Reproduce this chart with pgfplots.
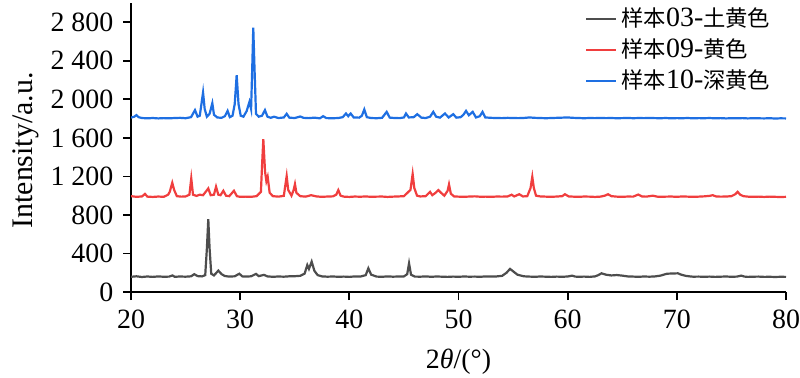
\documentclass[border=0pt]{standalone}
\usepackage{fontspec}
\setmainfont{Liberation Serif}
\newfontfamily\cjk[Scale=0.8]{Noto Sans CJK SC}
\usepackage{pgfplots}
\pgfplotsset{compat=1.18}
\usetikzlibrary{calc}
\definecolor{cgray}{RGB}{77,77,77}
\definecolor{cred}{RGB}{240,62,62}
\definecolor{cblue}{RGB}{30,111,226}
\begin{document}
\fontsize{14}{16}\selectfont
\begin{tikzpicture}
\begin{axis}[
  scale only axis, width=327.5bp, height=144.5bp,
  xmin=20, xmax=80, ymin=0, ymax=3000,
  axis lines=left, axis line style={-, line width=0.9bp, black},
  xtick={20,30,...,80}, ytick={0,400,...,2800},
  tick align=outside, major tick length=4bp,
  tick style={line width=0.9bp, black},
  tick label style={font=\fontsize{14}{16}\selectfont},
  /pgf/number format/assume math mode=true,
  /pgf/number format/1000 sep={\hspace{0.25em}},
  xlabel={2\textit{θ}/(°)}, ylabel={Intensity/a.u.},
  x label style={at={(axis description cs:0.5,-0.165)}, anchor=north, font=\fontsize{14}{16}\selectfont},
  y label style={at={(axis description cs:-0.16,0.49)}, anchor=center, font=\fontsize{15}{17}\selectfont},
  legend style={at={(rel axis cs:0.693,0.99)}, anchor=north west, draw=none, fill=none, inner xsep=0pt, inner ysep=0pt, row sep=2.5bp,
    nodes={inner ysep=0pt, inner xsep=2bp, text height=10bp, text depth=3bp, font=\fontsize{14}{16}\selectfont}},
  legend cell align=left,
  legend image code/.code={\draw[#1] (0bp,0bp) -- (15bp,0bp);},
  every axis plot/.append style={line width=1.1bp},
]
\coordinate (sw) at (rel axis cs:0,0);
\coordinate (ne) at (rel axis cs:1,1);
\addplot[cgray] coordinates {
(20,158)(20.5,163)(21,156)(21.5,161)(22,157)(22.5,162)(23,158)(23.5,160)(23.8,172)(24.0,158)(24.5,161)(25,159)(25.5,163)(25.8,185)(26.1,165)(26.5,162)(26.8,175)(26.95,450)(27.08,755)(27.2,450)(27.35,190)(27.6,172)(28.0,222)(28.3,185)(28.6,166)(29,160)(29.5,163)(29.92,190)(30.2,162)(30.5,160)(31,163)(31.45,188)(31.7,165)(32.18,178)(32.5,162)(33,158)(33.5,161)(34,159)(34.5,163)(35,164)(35.5,168)(35.9,190)(36.15,280)(36.3,240)(36.55,315)(36.8,220)(37.1,175)(37.5,162)(38,159)(38.5,161)(39,158)(39.5,160)(40,157)(40.5,162)(41,160)(41.5,175)(41.74,246)(42,180)(42.5,160)(43,158)(43.5,162)(44,159)(44.5,161)(45,162)(45.3,185)(45.47,297)(45.65,180)(46,160)(46.5,159)(47,162)(47.5,158)(48,161)(48.5,159)(49,157)(49.5,160)(50,158)(50.5,161)(51,159)(51.5,160)(52,158)(52.5,162)(53,160)(53.5,162)(54,168)(54.4,200)(54.72,240)(55.0,215)(55.4,180)(55.8,168)(56,163)(56.5,160)(57,158)(57.5,161)(58,159)(58.5,157)(59,160)(59.5,158)(60,161)(60.4,170)(60.7,160)(61,158)(61.5,160)(62,157)(62.5,162)(62.8,175)(63.1,194)(63.5,180)(64,172)(64.5,176)(65,170)(65.5,162)(66,160)(66.5,158)(67,161)(67.5,159)(68,162)(68.5,170)(69.1,190)(69.6,192)(70.1,194)(70.4,180)(70.8,168)(71.2,162)(71.5,159)(72,160)(72.5,158)(73,160)(73.5,157)(74,159)(74.5,161)(75,158)(75.5,160)(75.9,170)(76.2,160)(76.5,157)(77,159)(77.5,160)(78,157)(78.5,158)(79,156)(79.5,158)(80,157)
};
\addlegendentry{{\cjk 样本}03-{\cjk 土黄色}}
\addplot[cred] coordinates {
(20,995)(20.5,988)(21,992)(21.28,1018)(21.5,990)(22,987)(22.5,991)(23,988)(23.4,1010)(23.55,1040)(23.78,1134)(23.95,1060)(24.2,995)(24.6,990)(25,992)(25.35,1010)(25.52,1179)(25.68,1010)(26,998)(26.3,1010)(26.6,1005)(27.08,1075)(27.3,1005)(27.6,1010)(27.79,1093)(28.0,1010)(28.2,1005)(28.46,1051)(28.7,1000)(29,995)(29.43,1051)(29.7,995)(30,988)(30.5,990)(31,988)(31.5,995)(31.9,1040)(32.0,1300)(32.12,1587)(32.28,1250)(32.4,1150)(32.52,1196)(32.7,1030)(33,995)(33.5,990)(34,998)(34.1,1080)(34.26,1203)(34.4,1060)(34.7,1000)(34.9,1060)(35.02,1120)(35.15,1030)(35.5,995)(36,990)(36.5,1005)(37,992)(37.5,988)(38,991)(38.5,993)(38.8,1010)(38.99,1058)(39.2,1000)(39.5,990)(40,987)(40.5,991)(41,989)(41.5,992)(42,988)(42.5,990)(43,991)(43.5,987)(44,990)(44.5,992)(45,995)(45.6,1060)(45.8,1224)(45.95,1080)(46.2,1000)(46.5,992)(47,995)(47.39,1040)(47.6,1005)(47.9,1030)(48.15,1058)(48.4,1030)(48.7,1000)(49.0,1050)(49.13,1117)(49.3,1020)(49.6,992)(50,990)(50.5,988)(51,991)(51.5,993)(52,989)(52.5,990)(53,988)(53.5,991)(54,990)(54.5,992)(54.87,1010)(55.1,992)(55.57,1015)(55.9,992)(56.3,995)(56.6,1080)(56.76,1196)(56.9,1080)(57.1,1000)(57.5,992)(58,990)(58.5,988)(59,991)(59.5,995)(59.75,1015)(60.1,992)(60.5,990)(61,988)(61.5,991)(62,990)(62.5,987)(63,990)(63.4,1000)(63.7,1015)(64,995)(64.5,990)(65,988)(65.5,991)(66,990)(66.47,1012)(66.8,992)(67.2,990)(67.8,1000)(68.2,990)(68.5,988)(69,990)(69.5,991)(70,988)(70.5,992)(71,990)(71.5,988)(72,990)(72.5,993)(73,998)(73.28,1005)(73.6,992)(74,990)(74.5,991)(75,995)(75.35,1015)(75.57,1040)(75.8,1010)(76.1,995)(76.5,990)(77,988)(77.5,990)(78,987)(78.5,990)(79,988)(79.5,986)(80,988)
};
\addlegendentry{{\cjk 样本}09-{\cjk 黄色}}
\addplot[cblue] coordinates {
(20,1810)(20.3,1820)(20.5,1836)(20.7,1815)(21,1806)(21.5,1803)(22,1806)(22.5,1802)(23,1805)(23.5,1803)(24,1806)(24.5,1808)(25,1804)(25.5,1815)(25.86,1888)(26.1,1820)(26.3,1830)(26.45,1950)(26.6,2071)(26.75,1900)(26.95,1820)(27.2,1850)(27.45,1960)(27.6,1840)(27.9,1812)(28.3,1808)(28.6,1825)(28.85,1880)(29.05,1815)(29.3,1830)(29.5,1950)(29.68,2251)(29.85,1950)(30.05,1830)(30.3,1820)(30.6,1880)(30.85,1974)(31.0,1900)(31.1,2300)(31.2,2745)(31.32,2300)(31.45,1850)(31.7,1820)(32.0,1830)(32.27,1888)(32.5,1820)(32.8,1808)(33.1,1820)(33.5,1806)(34,1812)(34.26,1850)(34.5,1810)(35,1806)(35.5,1822)(35.8,1808)(36.3,1805)(36.8,1810)(37.3,1803)(37.6,1825)(37.9,1805)(38.5,1804)(39,1806)(39.4,1815)(39.69,1853)(39.9,1825)(40.12,1853)(40.4,1812)(40.9,1810)(41.15,1830)(41.37,1895)(41.6,1815)(42,1806)(42.5,1804)(43,1808)(43.42,1870)(43.7,1810)(44.2,1806)(44.6,1805)(45.0,1812)(45.19,1853)(45.45,1812)(45.9,1815)(46.22,1846)(46.6,1810)(47,1806)(47.4,1820)(47.69,1870)(47.95,1820)(48.3,1810)(48.76,1853)(49.1,1812)(49.52,1846)(49.8,1810)(50.2,1815)(50.45,1840)(50.69,1880)(50.95,1835)(51.3,1870)(51.6,1812)(51.95,1825)(52.2,1870)(52.45,1812)(53,1808)(53.5,1806)(54,1805)(54.5,1808)(55,1806)(55.5,1805)(56,1807)(56.5,1812)(57,1808)(57.5,1806)(58,1804)(58.5,1806)(59,1808)(59.5,1810)(60,1812)(60.5,1808)(61,1806)(61.5,1804)(62,1806)(62.5,1805)(63,1807)(63.5,1805)(64,1806)(64.5,1804)(65,1805)(65.5,1807)(66,1804)(66.5,1806)(67,1805)(67.5,1807)(68,1805)(68.5,1804)(69,1806)(69.5,1803)(70,1805)(70.5,1804)(71,1806)(71.5,1803)(72,1805)(72.5,1804)(73,1806)(73.5,1803)(74,1805)(74.5,1802)(75,1804)(75.5,1803)(76,1805)(76.5,1802)(77,1804)(77.5,1803)(78,1802)(78.5,1804)(79,1801)(79.5,1803)(80,1802)
};
\addlegendentry{{\cjk 样本}10-{\cjk 深黄色}}
\end{axis}
\pgfresetboundingbox
\path[use as bounding box] ($(sw)+(-65.5bp,-42.5bp)$) rectangle ($(ne)+(7bp,1.5bp)$);
\end{tikzpicture}
\end{document}
